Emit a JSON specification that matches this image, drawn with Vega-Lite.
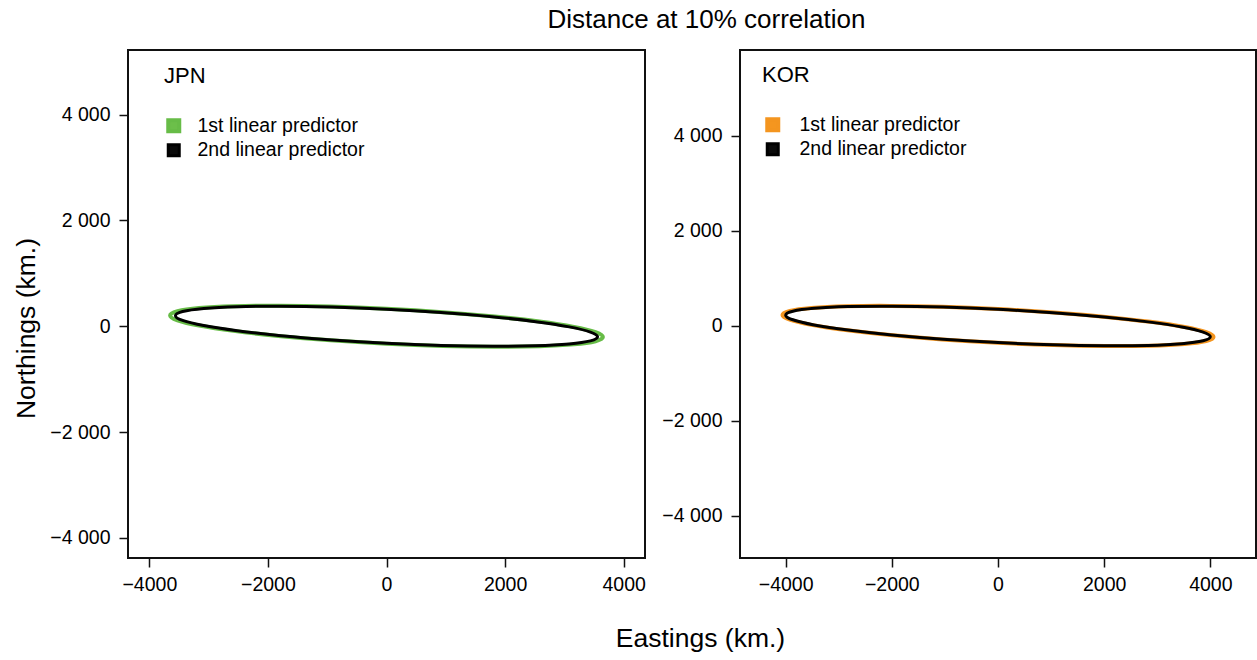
{
  "$schema": "https://vega.github.io/schema/vega-lite/v6.json",
  "background": "white",
  "padding": {"left": 12, "top": 7, "right": 0, "bottom": 0},
  "title": {
    "text": "Distance at 10% correlation",
    "fontSize": 26,
    "fontWeight": "normal",
    "font": "Liberation Sans",
    "color": "#000000",
    "anchor": "middle",
    "offset": 16,
    "dx": 72
  },
  "config": {
    "font": "Liberation Sans",
    "view": {"stroke": "#111111", "strokeWidth": 2},
    "axis": {
      "grid": false,
      "domain": false,
      "tickColor": "#111111",
      "tickSize": 9,
      "tickWidth": 1.5,
      "labelFont": "Liberation Sans",
      "labelFontSize": 19.5,
      "labelColor": "#000000",
      "titleFont": "Liberation Sans",
      "titleFontSize": 26.5,
      "titleFontWeight": "normal",
      "titleColor": "#000000"
    },
    "legend": {
      "orient": "none",
      "padding": 0,
      "titleFont": "Liberation Sans",
      "titleFontSize": 22,
      "titleFontWeight": "normal",
      "titleColor": "#000000",
      "titlePadding": 28,
      "labelFont": "Liberation Sans",
      "labelFontSize": 19.5,
      "labelColor": "#000000",
      "labelLimit": 400,
      "labelOffset": 14,
      "symbolType": "square",
      "symbolSize": 121,
      "symbolOffset": 0,
      "rowPadding": -1.5
    }
  },
  "bounds": "flush",
  "spacing": 95,
  "resolve": {
    "scale": {"color": "independent", "strokeWidth": "independent"},
    "legend": {"color": "independent"}
  },
  "datasets": {
    "jpn": [
      {"s": "1st linear predictor", "k": 0, "x": 3650, "y": -205},
      {"s": "1st linear predictor", "k": 1, "x": 3526, "y": -113},
      {"s": "1st linear predictor", "k": 2, "x": 3161, "y": -13},
      {"s": "1st linear predictor", "k": 3, "x": 2581, "y": 88},
      {"s": "1st linear predictor", "k": 4, "x": 1825, "y": 183},
      {"s": "1st linear predictor", "k": 5, "x": 945, "y": 266},
      {"s": "1st linear predictor", "k": 6, "x": 0, "y": 330},
      {"s": "1st linear predictor", "k": 7, "x": -945, "y": 372},
      {"s": "1st linear predictor", "k": 8, "x": -1825, "y": 388},
      {"s": "1st linear predictor", "k": 9, "x": -2581, "y": 378},
      {"s": "1st linear predictor", "k": 10, "x": -3161, "y": 343},
      {"s": "1st linear predictor", "k": 11, "x": -3526, "y": 283},
      {"s": "1st linear predictor", "k": 12, "x": -3650, "y": 205},
      {"s": "1st linear predictor", "k": 13, "x": -3526, "y": 113},
      {"s": "1st linear predictor", "k": 14, "x": -3161, "y": 13},
      {"s": "1st linear predictor", "k": 15, "x": -2581, "y": -88},
      {"s": "1st linear predictor", "k": 16, "x": -1825, "y": -183},
      {"s": "1st linear predictor", "k": 17, "x": -945, "y": -266},
      {"s": "1st linear predictor", "k": 18, "x": 0, "y": -330},
      {"s": "1st linear predictor", "k": 19, "x": 945, "y": -372},
      {"s": "1st linear predictor", "k": 20, "x": 1825, "y": -388},
      {"s": "1st linear predictor", "k": 21, "x": 2581, "y": -378},
      {"s": "1st linear predictor", "k": 22, "x": 3161, "y": -343},
      {"s": "1st linear predictor", "k": 23, "x": 3526, "y": -283},
      {"s": "2nd linear predictor", "k": 0, "x": 3560, "y": -200},
      {"s": "2nd linear predictor", "k": 1, "x": 3439, "y": -110},
      {"s": "2nd linear predictor", "k": 2, "x": 3083, "y": -12},
      {"s": "2nd linear predictor", "k": 3, "x": 2517, "y": 86},
      {"s": "2nd linear predictor", "k": 4, "x": 1780, "y": 179},
      {"s": "2nd linear predictor", "k": 5, "x": 921, "y": 259},
      {"s": "2nd linear predictor", "k": 6, "x": 0, "y": 322},
      {"s": "2nd linear predictor", "k": 7, "x": -921, "y": 363},
      {"s": "2nd linear predictor", "k": 8, "x": -1780, "y": 379},
      {"s": "2nd linear predictor", "k": 9, "x": -2517, "y": 369},
      {"s": "2nd linear predictor", "k": 10, "x": -3083, "y": 334},
      {"s": "2nd linear predictor", "k": 11, "x": -3439, "y": 277},
      {"s": "2nd linear predictor", "k": 12, "x": -3560, "y": 200},
      {"s": "2nd linear predictor", "k": 13, "x": -3439, "y": 110},
      {"s": "2nd linear predictor", "k": 14, "x": -3083, "y": 12},
      {"s": "2nd linear predictor", "k": 15, "x": -2517, "y": -86},
      {"s": "2nd linear predictor", "k": 16, "x": -1780, "y": -179},
      {"s": "2nd linear predictor", "k": 17, "x": -921, "y": -259},
      {"s": "2nd linear predictor", "k": 18, "x": 0, "y": -322},
      {"s": "2nd linear predictor", "k": 19, "x": 921, "y": -363},
      {"s": "2nd linear predictor", "k": 20, "x": 1780, "y": -379},
      {"s": "2nd linear predictor", "k": 21, "x": 2517, "y": -369},
      {"s": "2nd linear predictor", "k": 22, "x": 3083, "y": -334},
      {"s": "2nd linear predictor", "k": 23, "x": 3439, "y": -277}
    ],
    "kor": [
      {"s": "1st linear predictor", "k": 0, "x": 4060, "y": -232},
      {"s": "1st linear predictor", "k": 1, "x": 3922, "y": -132},
      {"s": "1st linear predictor", "k": 2, "x": 3516, "y": -23},
      {"s": "1st linear predictor", "k": 3, "x": 2871, "y": 87},
      {"s": "1st linear predictor", "k": 4, "x": 2030, "y": 191},
      {"s": "1st linear predictor", "k": 5, "x": 1051, "y": 283},
      {"s": "1st linear predictor", "k": 6, "x": 0, "y": 355},
      {"s": "1st linear predictor", "k": 7, "x": -1051, "y": 403},
      {"s": "1st linear predictor", "k": 8, "x": -2030, "y": 423},
      {"s": "1st linear predictor", "k": 9, "x": -2871, "y": 415},
      {"s": "1st linear predictor", "k": 10, "x": -3516, "y": 378},
      {"s": "1st linear predictor", "k": 11, "x": -3922, "y": 316},
      {"s": "1st linear predictor", "k": 12, "x": -4060, "y": 232},
      {"s": "1st linear predictor", "k": 13, "x": -3922, "y": 132},
      {"s": "1st linear predictor", "k": 14, "x": -3516, "y": 23},
      {"s": "1st linear predictor", "k": 15, "x": -2871, "y": -87},
      {"s": "1st linear predictor", "k": 16, "x": -2030, "y": -191},
      {"s": "1st linear predictor", "k": 17, "x": -1051, "y": -283},
      {"s": "1st linear predictor", "k": 18, "x": 0, "y": -355},
      {"s": "1st linear predictor", "k": 19, "x": 1051, "y": -403},
      {"s": "1st linear predictor", "k": 20, "x": 2030, "y": -423},
      {"s": "1st linear predictor", "k": 21, "x": 2871, "y": -415},
      {"s": "1st linear predictor", "k": 22, "x": 3516, "y": -378},
      {"s": "1st linear predictor", "k": 23, "x": 3922, "y": -316},
      {"s": "2nd linear predictor", "k": 0, "x": 4000, "y": -228},
      {"s": "2nd linear predictor", "k": 1, "x": 3864, "y": -130},
      {"s": "2nd linear predictor", "k": 2, "x": 3464, "y": -22},
      {"s": "2nd linear predictor", "k": 3, "x": 2828, "y": 86},
      {"s": "2nd linear predictor", "k": 4, "x": 2000, "y": 189},
      {"s": "2nd linear predictor", "k": 5, "x": 1035, "y": 279},
      {"s": "2nd linear predictor", "k": 6, "x": 0, "y": 350},
      {"s": "2nd linear predictor", "k": 7, "x": -1035, "y": 397},
      {"s": "2nd linear predictor", "k": 8, "x": -2000, "y": 417},
      {"s": "2nd linear predictor", "k": 9, "x": -2828, "y": 409},
      {"s": "2nd linear predictor", "k": 10, "x": -3464, "y": 372},
      {"s": "2nd linear predictor", "k": 11, "x": -3864, "y": 311},
      {"s": "2nd linear predictor", "k": 12, "x": -4000, "y": 228},
      {"s": "2nd linear predictor", "k": 13, "x": -3864, "y": 130},
      {"s": "2nd linear predictor", "k": 14, "x": -3464, "y": 22},
      {"s": "2nd linear predictor", "k": 15, "x": -2828, "y": -86},
      {"s": "2nd linear predictor", "k": 16, "x": -2000, "y": -189},
      {"s": "2nd linear predictor", "k": 17, "x": -1035, "y": -279},
      {"s": "2nd linear predictor", "k": 18, "x": 0, "y": -350},
      {"s": "2nd linear predictor", "k": 19, "x": 1035, "y": -397},
      {"s": "2nd linear predictor", "k": 20, "x": 2000, "y": -417},
      {"s": "2nd linear predictor", "k": 21, "x": 2828, "y": -409},
      {"s": "2nd linear predictor", "k": 22, "x": 3464, "y": -372},
      {"s": "2nd linear predictor", "k": 23, "x": 3864, "y": -311}
    ]
  },
  "hconcat": [
    {
      "width": 517,
      "height": 508,
      "data": {"name": "jpn"},
      "mark": {"type": "line", "interpolate": "cardinal-closed"},
      "encoding": {
        "x": {
          "field": "x",
          "type": "quantitative",
          "scale": {"domain": [-4360, 4360], "nice": false, "zero": false},
          "axis": {
            "values": [-4000, -2000, 0, 2000, 4000],
            "format": "d",
            "labelPadding": 8,
            "title": "Eastings (km.)",
            "titleX": 572,
            "titleY": 67,
            "titleAnchor": "middle",
            "titleAlign": "center",
            "titleBaseline": "top"
          }
        },
        "y": {
          "field": "y",
          "type": "quantitative",
          "scale": {"domain": [-4380, 5220], "nice": false, "zero": false},
          "axis": {
            "values": [-4000, -2000, 0, 2000, 4000],
            "labelExpr": "replace(format(datum.value, ','), ',', ' ')",
            "labelPadding": 9,
            "title": "Northings (km.)",
            "titleX": -88,
            "titleY": 278,
            "titleAngle": -90,
            "titleAlign": "center",
            "titleBaseline": "bottom"
          }
        },
        "order": {"field": "k", "type": "quantitative"},
        "color": {
          "field": "s",
          "type": "nominal",
          "scale": {
            "domain": ["1st linear predictor", "2nd linear predictor"],
            "range": ["#67bc47", "#000000"]
          },
          "legend": {
            "title": "JPN",
            "legendX": 36,
            "legendY": 16,
            "encode": {
              "symbols": {
                "update": {
                  "fill": {"signal": "datum.value === '1st linear predictor' ? '#6cbf4a' : '#0a0a0a'"},
                  "stroke": {"value": "#222222"},
                  "strokeWidth": {"value": 1},
                  "opacity": {"value": 1}
                }
              }
            }
          }
        },
        "strokeWidth": {
          "field": "s",
          "type": "nominal",
          "scale": {
            "domain": ["1st linear predictor", "2nd linear predictor"],
            "range": [4, 3]
          },
          "legend": null
        }
      }
    },
    {
      "width": 516,
      "height": 508,
      "data": {"name": "kor"},
      "mark": {"type": "line", "interpolate": "cardinal-closed"},
      "encoding": {
        "x": {
          "field": "x",
          "type": "quantitative",
          "scale": {"domain": [-4860, 4860], "nice": false, "zero": false},
          "axis": {
            "values": [-4000, -2000, 0, 2000, 4000],
            "format": "d",
            "labelPadding": 8,
            "title": null
          }
        },
        "y": {
          "field": "y",
          "type": "quantitative",
          "scale": {"domain": [-4885, 5810], "nice": false, "zero": false},
          "axis": {
            "values": [-4000, -2000, 0, 2000, 4000],
            "labelExpr": "replace(format(datum.value, ','), ',', ' ')",
            "labelPadding": 9,
            "title": null
          }
        },
        "order": {"field": "k", "type": "quantitative"},
        "color": {
          "field": "s",
          "type": "nominal",
          "scale": {
            "domain": ["1st linear predictor", "2nd linear predictor"],
            "range": ["#f4951f", "#000000"]
          },
          "legend": {
            "title": "KOR",
            "legendX": 22,
            "legendY": 15,
            "symbolOffset": 1,
            "labelOffset": 17,
            "encode": {
              "symbols": {
                "update": {
                  "fill": {"signal": "datum.value === '1st linear predictor' ? '#f5961f' : '#0a0a0a'"},
                  "stroke": {"value": "#222222"},
                  "strokeWidth": {"value": 1},
                  "opacity": {"value": 1}
                }
              }
            }
          }
        },
        "strokeWidth": {
          "field": "s",
          "type": "nominal",
          "scale": {
            "domain": ["1st linear predictor", "2nd linear predictor"],
            "range": [4, 3]
          },
          "legend": null
        }
      }
    }
  ]
}
